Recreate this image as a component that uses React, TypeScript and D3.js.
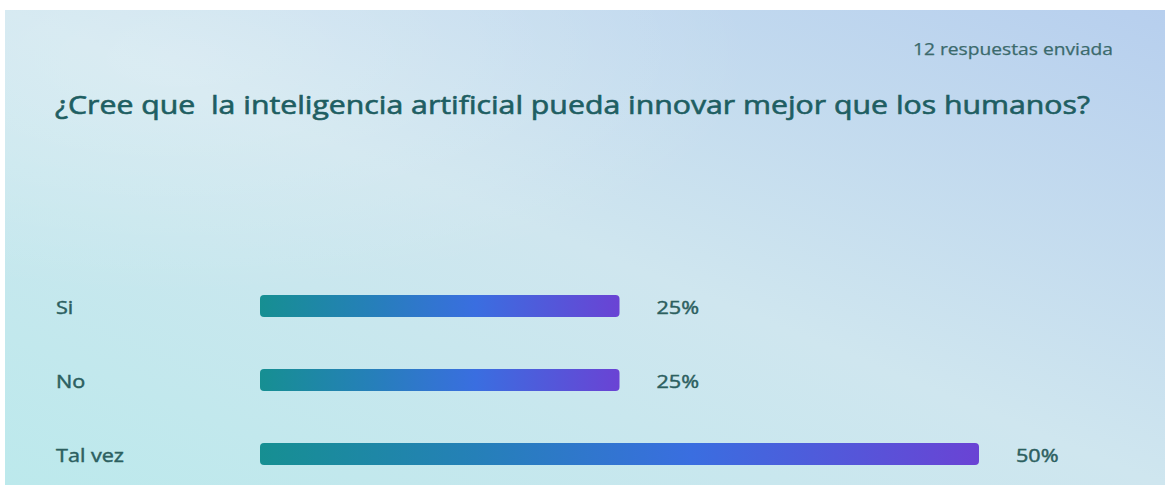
import React from "react";
import * as d3 from "d3";

const categories = ["Si", "No", "Tal vez"];
const values = [25, 25, 50];
const valueLabels = ["25%", "25%", "50%"];
const title = "¿Cree que  la inteligencia artificial pueda innovar mejor que los humanos?";
const subtitle = "12 respuestas enviada";

const W = 1165;
const H = 485;
const SX = 1.2;

export default function App() {
  const x = d3.scaleLinear().domain([0, 50]).range([260, 979]);
  const y = d3.scalePoint<string>().domain(categories).range([306, 454]);
  const barH = 22;
  const font = "'Open Sans', 'Noto Sans', sans-serif";
  return (
    <svg
      width={W}
      height={H}
      style={{ position: "absolute", left: 0, top: 0, display: "block" }}
    >
      <defs>
        <linearGradient id="bg" x1="0" y1="1" x2="1" y2="0">
          <stop offset="0" stopColor="#bce9ec" />
          <stop offset="0.5" stopColor="#cfe6ef" />
          <stop offset="1" stopColor="#b7cfee" />
        </linearGradient>
        <radialGradient id="glow" cx="0.15" cy="0.1" r="0.5">
          <stop offset="0" stopColor="#ffffff" stopOpacity="0.25" />
          <stop offset="1" stopColor="#ffffff" stopOpacity="0" />
        </radialGradient>
        <linearGradient id="bar" x1="0" y1="0" x2="1" y2="0">
          <stop offset="0" stopColor="#168f92" />
          <stop offset="0.3" stopColor="#2580b8" />
          <stop offset="0.6" stopColor="#3a6ee0" />
          <stop offset="1" stopColor="#6a43d4" />
        </linearGradient>
      </defs>
      <rect width={W} height={H} fill="#ffffff" />
      <rect x={5} y={10} width={W - 5} height={H - 10} fill="url(#bg)" />
      <rect x={5} y={10} width={W - 5} height={H - 10} fill="url(#glow)" />
      <text
        x={913}
        y={55}
        fontFamily={font}
        fontSize={16}
        fill="#3b6a6c"
        stroke="#3b6a6c"
        strokeWidth={0.25}
        textLength={200}
        lengthAdjust="spacingAndGlyphs"
      >
        {subtitle}
      </text>
      <text
        x={55}
        y={114}
        fontFamily={font}
        fontSize={25}
        fill="#1e5e62"
        stroke="#1e5e62"
        strokeWidth={0.6}
        textLength={1035}
        lengthAdjust="spacingAndGlyphs"
        style={{ whiteSpace: "pre" }}
      >
        {title}
      </text>
      {categories.map((c, i) => {
        const cy = y(c) as number;
        return (
          <g key={c}>
            <text
              transform={`translate(56,${cy + 8}) scale(${SX},1)`}
              fontFamily={font}
              fontSize={18}
              fill="#2c5f60"
              stroke="#2c5f60"
              strokeWidth={0.45}
            >
              {c}
            </text>
            <rect
              x={x(0)}
              y={cy - barH / 2}
              width={x(values[i]) - x(0)}
              height={barH}
              rx={4}
              fill="url(#bar)"
            />
            <text
              transform={`translate(${x(values[i]) + 37},${cy + 8}) scale(${SX},1)`}
              fontFamily={font}
              fontSize={18}
              fill="#2c5f60"
              stroke="#2c5f60"
              strokeWidth={0.45}
            >
              {valueLabels[i]}
            </text>
          </g>
        );
      })}
    </svg>
  );
}
